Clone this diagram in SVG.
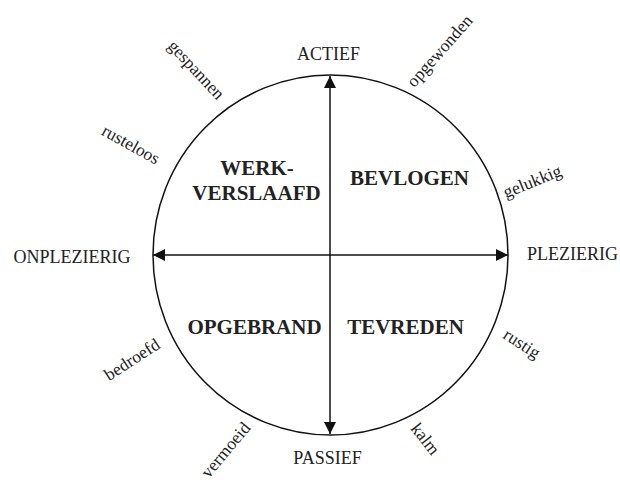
<svg xmlns="http://www.w3.org/2000/svg" width="620" height="483" viewBox="0 0 620 483">
<style>
.ax{font-family:"Liberation Serif","Times New Roman",serif;font-size:18px;fill:#222;text-anchor:middle}
.q{font-family:"Liberation Serif","Times New Roman",serif;font-size:21px;font-weight:bold;fill:#222;text-anchor:middle}
.s{font-family:"Liberation Serif","Times New Roman",serif;font-size:17.5px;fill:#222;text-anchor:middle}
.ln{stroke:#111;stroke-width:1.5;fill:none}
</style>
<defs>
<marker id="ah" viewBox="0 0 12 12" refX="12" refY="6" markerWidth="12" markerHeight="12" markerUnits="userSpaceOnUse" orient="auto-start-reverse">
<path d="M0,0 L12,6 L0,12 Z" fill="#111"/>
</marker>
</defs>
<g id="circle"><ellipse class="ln" cx="330.5" cy="255" rx="177.5" ry="180"/></g>
<g id="connectors">
<line class="ln" x1="330" y1="434" x2="330" y2="76" marker-start="url(#ah)" marker-end="url(#ah)"/>
<line class="ln" x1="153" y1="255" x2="508" y2="255" marker-start="url(#ah)" marker-end="url(#ah)"/>
</g>
<g id="actief"><text class="ax" x="328.5" y="60">ACTIEF</text></g>
<g id="passief"><text class="ax" x="327.5" y="464">PASSIEF</text></g>
<g id="onplezierig"><text class="ax" x="72" y="263">ONPLEZIERIG</text></g>
<g id="plezierig"><text class="ax" x="572.5" y="260">PLEZIERIG</text></g>
<g id="werkverslaafd"><text class="q" x="257" y="175">WERK-</text><text class="q" x="256.5" y="200">VERSLAAFD</text></g>
<g id="bevlogen"><text class="q" x="409.5" y="185">BEVLOGEN</text></g>
<g id="opgebrand"><text class="q" x="254.5" y="334">OPGEBRAND</text></g>
<g id="tevreden"><text class="q" x="405.5" y="334">TEVREDEN</text></g>
<g id="gespannen"><text class="s" transform="translate(195,71) rotate(47)" y="4">gespannen</text></g>
<g id="opgewonden"><text class="s" transform="translate(441,52) rotate(-48.5)" y="4">opgewonden</text></g>
<g id="gelukkig"><text class="s" transform="translate(533,183) rotate(-22)" y="4">gelukkig</text></g>
<g id="rusteloos"><text class="s" transform="translate(130,146) rotate(29)" y="4">rusteloos</text></g>
<g id="rustig"><text class="s" transform="translate(521,345) rotate(33)" y="4">rustig</text></g>
<g id="bedroefd"><text class="s" transform="translate(133,361) rotate(-33)" y="4">bedroefd</text></g>
<g id="vermoeid"><text class="s" transform="translate(227,451) rotate(-50)" y="4">vermoeid</text></g>
<g id="kalm"><text class="s" transform="translate(424,440) rotate(52)" y="4">kalm</text></g>
</svg>
